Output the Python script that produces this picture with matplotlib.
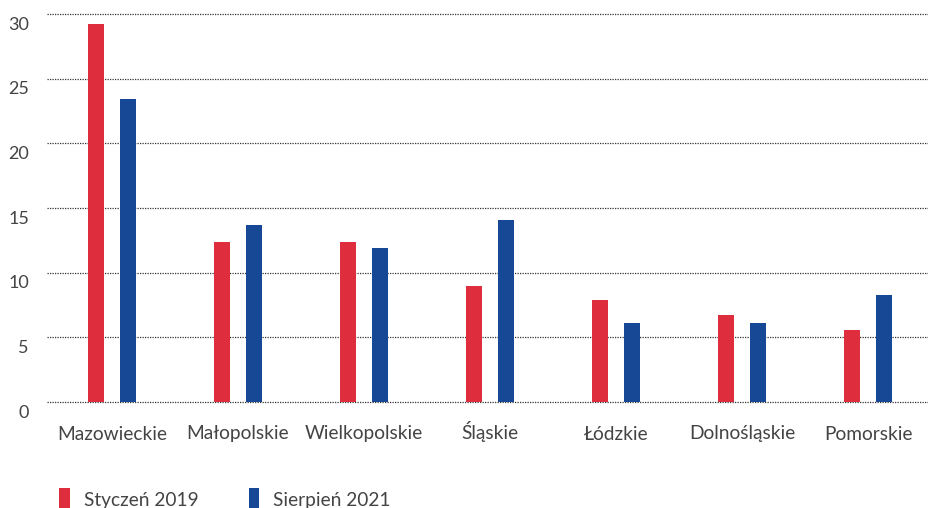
import matplotlib
matplotlib.use("Agg")
import matplotlib.pyplot as plt
import matplotlib.transforms as mtransforms
import numpy as np

categories = ["Mazowieckie", "Małopolskie", "Wielkopolskie", "Śląskie", "Łódzkie", "Dolnośląskie", "Pomorskie"]
series_names = ["Styczeń 2019", "Sierpień 2021"]
values_2019 = [29.2, 12.4, 12.4, 9.0, 7.9, 6.7, 5.6]
values_2021 = [23.4, 13.7, 11.9, 14.1, 6.1, 6.1, 8.3]
yticks = [0, 5, 10, 15, 20, 25, 30]

RED = "#de2d3c"
BLUE = "#174895"
TXT = "#444444"

plt.rcParams['font.family'] = ['Lato', 'DejaVu Sans']

fig = plt.figure(figsize=(9.29, 5.08), dpi=100)
ax = fig.add_axes([47/929, 1 - 402/508, (929-47)/929, (402-14)/508])

x = np.arange(len(categories))
w = 0.127
b1 = ax.bar(x - w, values_2019, width=w, color=RED, label=series_names[0], zorder=3)
b2 = ax.bar(x + w, values_2021, width=w, color=BLUE, label=series_names[1], zorder=3)

ax.set_xlim(-0.515, 6.48)
ax.set_ylim(0, 30)
ax.set_yticks(yticks)
ax.set_yticklabels([str(t) for t in yticks])
ax.set_xticks(x)
ax.set_xticklabels(categories)

for s in ax.spines.values():
    s.set_visible(False)
ax.grid(axis='y', linestyle=(0, (1, 1)), color="#333333", linewidth=0.9, zorder=0)
for gl in ax.get_ygridlines():
    gl.set_clip_on(False)
ax.tick_params(axis='both', length=0, colors=TXT)
ax.tick_params(axis='y', pad=13, labelsize=13)
ax.tick_params(axis='x', pad=27, labelsize=13.8)
for lab in ax.get_xticklabels():
    lab.set_verticalalignment('baseline')

off = mtransforms.ScaledTranslation(0, -9/100, fig.dpi_scale_trans)
for lab in ax.get_yticklabels():
    lab.set_transform(lab.get_transform() + off)

leg = fig.legend(handles=[b1, b2], loc='center left', bbox_to_anchor=(59/929, 8/508),
                 ncol=2, frameon=False, handlelength=0.55, handleheight=1.5,
                 handletextpad=0.75, columnspacing=2.6, fontsize=13.8, borderpad=0,
                 borderaxespad=0)
for t in leg.get_texts():
    t.set_color(TXT)

fig.savefig("out.png", dpi=100)
